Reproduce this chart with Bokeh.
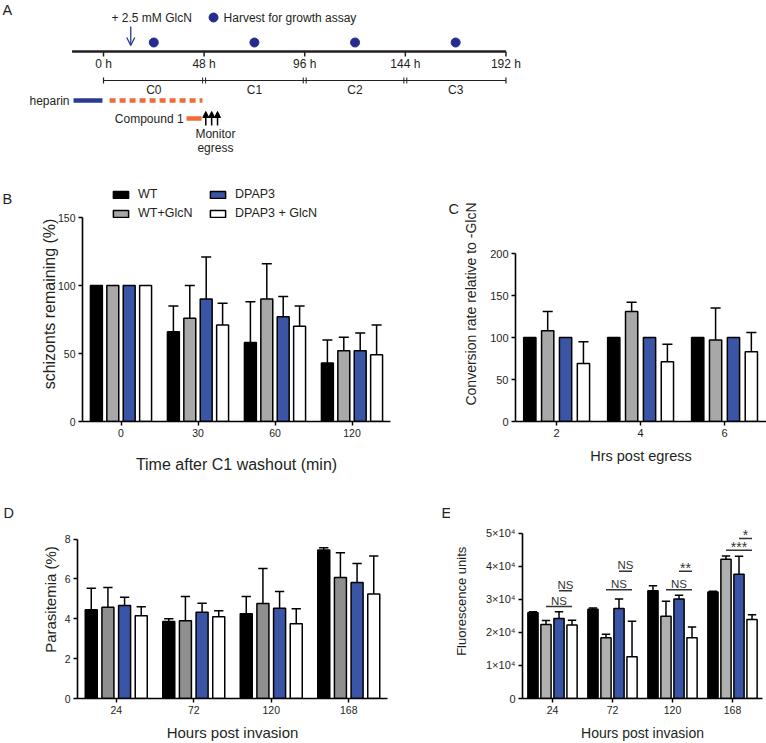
from bokeh.plotting import figure
from bokeh.models import (Range1d, FixedTicker, Legend, LegendItem, Arrow,
                          OpenHead, NormalHead, ColumnDataSource)
from bokeh.layouts import column, row
from bokeh.embed import file_html
from bokeh.resources import INLINE
from bokeh.core.properties import value

FONT = "Liberation Sans"
INK = "#231F20"
NAVY = "#2B3990"
DOT = "#262C8E"
ORANGE = "#F26A35"
BLUE = "#3A55A5"

# ---------------- Panel A : timeline ----------------
timeline_start = -15
timeline_ticks = [0, 48, 96, 144, 192]
timeline_labels = ["0 h", "48 h", "96 h", "144 h", "192 h"]
harvest_times = [24, 72, 120, 168]
cycle_labels = ["C0", "C1", "C2", "C3"]
glcn_time = 13
heparin_span = [-14.3, -0.5]
dashed_span = [2.9, 47.2]
compound1_span = [39.6, 46.8]
egress_times = [48.8, 51.6, 54.4]

# ---------------- Panels B-E : bar charts ----------------
series = ["WT", "WT+GlcN", "DPAP3", "DPAP3 + GlcN"]

b_cats = ["0", "30", "60", "120"]
b_wt = [100, 66, 58, 43]
b_wt_sd = [0, 19, 30, 17]
b_wtg = [100, 76, 90, 52]
b_wtg_sd = [0, 24, 26, 10]
b_dp = [100, 90, 77, 52]
b_dp_sd = [0, 31, 15, 13]
b_dpg = [100, 71, 70, 49]
b_dpg_sd = [0, 16, 15, 22]

c_cats = ["2", "4", "6"]
c_wt = [100, 100, 100]
c_wt_sd = [0, 0, 0]
c_wtg = [108, 131, 97]
c_wtg_sd = [23, 11, 38]
c_dp = [100, 100, 100]
c_dp_sd = [0, 0, 0]
c_dpg = [69, 71, 83]
c_dpg_sd = [26, 21, 23]

d_cats = ["24", "72", "120", "168"]
d_wt = [4.45, 3.87, 4.25, 7.45]
d_wt_sd = [1.08, 0.13, 0.87, 0.12]
d_wtg = [4.58, 3.90, 4.77, 6.08]
d_wtg_sd = [0.99, 1.22, 1.76, 1.24]
d_dp = [4.67, 4.33, 4.53, 5.82]
d_dp_sd = [0.41, 0.45, 0.84, 0.96]
d_dpg = [4.15, 4.10, 3.75, 5.25]
d_dpg_sd = [0.45, 0.30, 0.75, 1.90]

e_cats = ["24", "72", "120", "168"]
e_wt = [25900, 27000, 32600, 32200]
e_wt_sd = [300, 400, 1500, 200]
e_wtg = [22400, 18400, 24900, 42100]
e_wtg_sd = [1200, 1000, 4500, 1000]
e_dp = [24200, 27200, 30100, 37600]
e_dp_sd = [2000, 2900, 1100, 5400]
e_dpg = [22200, 12600, 18400, 23900]
e_dpg_sd = [1500, 10800, 3200, 1400]
e_ticks = [0, 10000, 20000, 30000, 40000, 50000]
e_tick_labels = ["0", "1×10⁴", "2×10⁴", "3×10⁴", "4×10⁴", "5×10⁴"]
e_sig_group = [0, 0, 1, 1, 2, 2, 3, 3]
e_sig_from = [1, 2, 1, 2, 1, 2, 1, 2]
e_sig_to = [3, 3, 3, 3, 3, 3, 3, 3]
e_sig_level = [27800, 32600, 32900, 38500, 32900, 38500, 44800, 48400]
e_sig_text = ["NS", "NS", "NS", "NS", "NS", "**", "***", "*"]


def txt(p, x, y, t, size="12px", align="center", baseline="middle", color=INK):
    p.text(x=x, y=y, text=t, text_font=value(FONT), text_font_size=size,
           text_align=align, text_baseline=baseline, text_color=color)


# ======================= Panel A =======================
A_X0, A_X1 = -49.14, 316.3
pA = figure(width=766, height=186, x_range=Range1d(A_X0, A_X1), y_range=Range1d(186, 0),
            x_axis_type=None, y_axis_type=None, output_backend="svg", toolbar_location=None,
            min_border=0, outline_line_color=None)
pA.grid.visible = False

txt(pA, [A_X0 + 1], [1], ["A"], size="14.5px", align="left", baseline="top")

# main time axis
pA.segment(x0=[timeline_start], y0=[51], x1=[timeline_ticks[-1]], y1=[51], line_color=INK, line_width=2.6)
pA.segment(x0=timeline_ticks, y0=[51] * 5, x1=timeline_ticks, y1=[56] * 5, line_color=INK, line_width=1.5)
txt(pA, timeline_ticks, [63] * 5, timeline_labels)

# harvest dots + legend
pA.scatter(x=harvest_times, y=[42] * 4, size=9, marker="circle", fill_color=DOT, line_color=DOT)
pA.scatter(x=[52.5], y=[17], size=9, marker="circle", fill_color=DOT, line_color=DOT)
txt(pA, [57.3], [17], ["Harvest for growth assay"], align="left")

# GlcN addition
txt(pA, [3.8], [17], ["+ 2.5 mM GlcN"], align="left")
pA.add_layout(Arrow(end=OpenHead(size=8, line_color=NAVY, line_width=1.3),
                    x_start=glcn_time, y_start=26, x_end=glcn_time, y_end=45,
                    line_color=NAVY, line_width=1.3))

# cycles
cyc_mid = [(timeline_ticks[i] + timeline_ticks[i + 1]) / 2 for i in range(4)]
pA.segment(x0=[timeline_ticks[0]], y0=[80], x1=[timeline_ticks[-1]], y1=[80], line_color=INK, line_width=1)
end_ticks = [timeline_ticks[0], timeline_ticks[-1]]
pA.segment(x0=end_ticks, y0=[77] * 2, x1=end_ticks, y1=[83] * 2, line_color=INK, line_width=1.2)
inner = timeline_ticks[1:-1]
dbl = [t - 0.7 for t in inner] + [t + 0.7 for t in inner]
pA.segment(x0=dbl, y0=[77] * 6, x1=dbl, y1=[83] * 6, line_color=INK, line_width=1)
txt(pA, cyc_mid, [89] * 4, cycle_labels)

# treatments
txt(pA, [-16.2], [100], ["heparin"], align="right")
pA.segment(x0=[heparin_span[0]], y0=[100], x1=[heparin_span[1]], y1=[100], line_color=NAVY, line_width=4.5)
pA.segment(x0=[dashed_span[0]], y0=[100], x1=[dashed_span[1]], y1=[100], line_color=ORANGE,
           line_width=4.5, line_dash="6 4")
txt(pA, [38.2], [118], ["Compound 1"], align="right")
pA.segment(x0=[compound1_span[0]], y0=[118], x1=[compound1_span[1]], y1=[118], line_color=ORANGE, line_width=4.5)
eg_src = ColumnDataSource(dict(x=egress_times, y0=[125] * 3, y1=[111] * 3))
pA.add_layout(Arrow(source=eg_src, x_start="x", y_start="y0", x_end="x", y_end="y1",
                    line_color="black", line_width=1.5,
                    end=NormalHead(size=6, fill_color="black", line_color="black", line_width=1)))
txt(pA, [53.4, 53.4], [133, 147], ["Monitor", "egress"])


# ======================= helpers =======================
def letter_fig(width, height, top, bottom, frame_top, frame_bottom, letter, x, y):
    f = figure(width=width, height=height, x_range=Range1d(0, width),
               y_range=Range1d(frame_bottom, frame_top), x_axis_type=None, y_axis_type=None,
               output_backend="svg", toolbar_location=None, outline_line_color=None,
               min_border_left=0, min_border_right=0, min_border_top=top, min_border_bottom=bottom)
    f.grid.visible = False
    txt(f, [x], [y], [letter], size="14.5px", align="left", baseline="top")
    return f


def bar_panel(width, height, borders, xr, yr, cats, means, sds, grey, bar_w, step, cap,
              yticks, ybounds, xlabel, ylabel, tick_px, ytick_px, xlab_px, ylab_px,
              xlab_stand, ylab_stand, ylabels=None):
    left, right, top, bottom = borders
    p = figure(width=width, height=height, x_range=Range1d(*xr), y_range=Range1d(*yr),
               output_backend="svg", toolbar_location=None,
               min_border_left=left, min_border_right=right,
               min_border_top=top, min_border_bottom=bottom)
    p.outline_line_color = None
    p.grid.visible = False
    colors = ["black", grey, BLUE, "white"]
    offsets = [(k - 1.5) * step for k in range(4)]
    rends = []
    for k in range(4):
        xs = [i + offsets[k] for i in range(len(cats))]
        r = p.vbar(x=xs, top=means[k], bottom=0, width=bar_w, fill_color=colors[k],
                   line_color="black", line_width=1.5)
        rends.append(r)
        ex = [x for x, s in zip(xs, sds[k]) if s > 0]
        eb = [m for m, s in zip(means[k], sds[k]) if s > 0]
        et = [m + s for m, s in zip(means[k], sds[k]) if s > 0]
        p.segment(x0=ex, y0=eb, x1=ex, y1=et, line_color="black", line_width=1.5)
        p.segment(x0=[x - cap for x in ex], y0=et, x1=[x + cap for x in ex], y1=et,
                  line_color="black", line_width=1.5)
    p.xaxis.ticker = FixedTicker(ticks=list(range(len(cats))))
    p.xaxis.major_label_overrides = {i: c for i, c in enumerate(cats)}
    p.yaxis.ticker = FixedTicker(ticks=yticks)
    if ylabels is not None:
        p.yaxis.major_label_overrides = {t: l for t, l in zip(yticks, ylabels)}
    p.yaxis.bounds = ybounds
    for ax in p.axis:
        ax.axis_line_color = "black"
        ax.axis_line_width = 1.6
        ax.major_tick_line_color = "black"
        ax.major_tick_line_width = 1.4
        ax.major_tick_out = 4
        ax.major_tick_in = 0
        ax.minor_tick_line_color = None
        ax.major_label_text_font = FONT
        ax.major_label_text_color = INK
        ax.major_label_standoff = 3
        ax.axis_label_text_font = FONT
        ax.axis_label_text_font_style = "normal"
        ax.axis_label_text_color = INK
    p.xaxis.major_label_text_font_size = tick_px
    p.yaxis.major_label_text_font_size = ytick_px
    p.xaxis.axis_label = xlabel
    p.xaxis.axis_label_text_font_size = xlab_px
    p.xaxis.axis_label_standoff = xlab_stand
    p.yaxis.axis_label = ylabel
    p.yaxis.axis_label_text_font_size = ylab_px
    p.yaxis.axis_label_standoff = ylab_stand
    return p, rends


# ======================= row 2 : B, C =======================
# frames span screen y 186..421
lB = letter_fig(20, 289, 0, 54, 186, 421, "B", 2, 190.5)
pB, rB = bar_panel(380, 289, (62, 10, 0, 54), (-0.5, 3.5), (0, 172.8), b_cats,
                   [b_wt, b_wtg, b_dp, b_dpg], [b_wt_sd, b_wtg_sd, b_dp_sd, b_dpg_sd],
                   "#A8A8A8", 0.155, 0.213, 0.065, [0, 50, 100, 150], (0, 150),
                   "Time after C1 washout (min)", "schizonts remaining (%)",
                   "10.5px", "10.5px", "16px", "16px", 16, -3)
for items, xloc in (([0, 1], 29), ([2, 3], 126)):
    leg = Legend(items=[LegendItem(label=series[i], renderers=[rB[i]]) for i in items],
                 location=(xloc, 201), orientation="vertical",
                 glyph_width=19, glyph_height=9, label_standoff=8, spacing=5,
                 label_height=14, padding=0, margin=0,
                 label_text_font=FONT, label_text_font_size="12.5px", label_text_color=INK,
                 border_line_alpha=0, background_fill_alpha=0)
    pB.add_layout(leg)

lC = letter_fig(60, 289, 0, 54, 186, 421, "C", 48, 200)
pC, _ = bar_panel(306, 289, (53, 0, 0, 54), (-0.49, 2.5), (0, 279.8), c_cats,
                  [c_wt, c_wtg, c_dp, c_dpg], [c_wt_sd, c_wtg_sd, c_dp_sd, c_dpg_sd],
                  "#A8A8A8", 0.146, 0.213, 0.06, [0, 50, 100, 150, 200], (0, 200),
                  "Hrs post egress", "Conversion rate relative to -GlcN",
                  "11px", "11px", "14.5px", "14px", 8, 8)

# ======================= row 3 : D, E =======================
# frames span screen y 500..700
lD = letter_fig(20, 268, 25, 43, 500, 700, "D", 3, 504.5)
pD, _ = bar_panel(380, 268, (57, 13, 25, 43), (-0.5, 3.5), (0, 9.94), d_cats,
                  [d_wt, d_wtg, d_dp, d_dpg], [d_wt_sd, d_wtg_sd, d_dp_sd, d_dpg_sd],
                  "#8F8F8F", 0.155, 0.215, 0.06, [0, 2, 4, 6, 8], (0, 8),
                  "Hours post invasion", "Parasitemia (%)",
                  "10.5px", "10.5px", "15px", "15px", 7, 3)

lE = letter_fig(50, 268, 25, 43, 500, 700, "E", 41, 504.5)
pE, _ = bar_panel(316, 268, (63, 4, 25, 43), (-0.5, 3.5), (0, 59880), e_cats,
                  [e_wt, e_wtg, e_dp, e_dpg], [e_wt_sd, e_wtg_sd, e_dp_sd, e_dpg_sd],
                  "#B0B0B0", 0.17, 0.217, 0.07, e_ticks, (0, 50000),
                  "Hours post invasion", "Fluorescence  units",
                  "10.5px", "11px", "14px", "13px", 8, 14, ylabels=e_tick_labels)

e_step = 0.217
sx0 = [g + (f - 1.5) * e_step for g, f in zip(e_sig_group, e_sig_from)]
sx1 = [g + (t - 1.5) * e_step for g, t in zip(e_sig_group, e_sig_to)]
pE.segment(x0=sx0, y0=e_sig_level, x1=sx1, y1=e_sig_level, line_color="#333333", line_width=1.5)
mid = [(a + b) / 2 for a, b in zip(sx0, sx1)]
ns_i = [i for i, t in enumerate(e_sig_text) if t == "NS"]
st_i = [i for i, t in enumerate(e_sig_text) if t != "NS"]
txt(pE, [mid[i] for i in ns_i], [e_sig_level[i] for i in ns_i], [e_sig_text[i] for i in ns_i],
    size="11.5px", baseline="bottom", color="#333333")
txt(pE, [mid[i] for i in st_i], [e_sig_level[i] + 900 for i in st_i], [e_sig_text[i] for i in st_i],
    size="14px", baseline="middle", color="#333333")

layout = column(pA, row(lB, pB, lC, pC), row(lD, pD, lE, pE))
open("out.html", "w").write(file_html(layout, INLINE))
